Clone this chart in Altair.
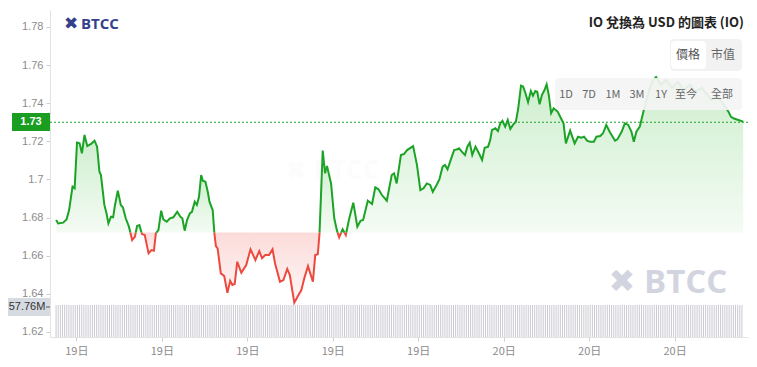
import altair as alt
import pandas as pd

# ---- data (hours since 19日 03:00, price in USD) ----
times = [0.05,0.15,0.38,0.54,0.66,0.82,0.92,1.03,1.15,1.26,
         1.38,1.51,1.69,1.85,1.97,2.08,2.15,2.31,2.41,2.50,
         2.62,2.72,2.81,2.94,3.08,3.18,3.31,3.46,3.61,3.74,
         3.84,3.95,4.07,4.20,4.38,4.51,4.63,4.72,4.84,4.97,
         5.07,5.23,5.38,5.54,5.72,5.87,5.96,6.07,6.18,6.31,
         6.41,6.54,6.64,6.74,6.84,6.92,7.04,7.15,7.23,7.38,
         7.46,7.53,7.61,7.76,7.92,8.07,8.20,8.30,8.41,8.53,
         8.72,8.95,9.15,9.38,9.56,9.69,9.84,10.02,10.18,10.30,
         10.53,10.69,10.87,10.99,11.20,11.35,11.53,11.68,11.84,11.96,
         12.07,12.18,12.30,12.38,12.53,12.64,12.73,12.92,13.07,13.19,
         13.30,13.46,13.61,13.76,13.96,14.15,14.30,14.42,14.64,14.84,
         14.99,15.14,15.30,15.53,15.76,15.87,15.99,16.19,16.33,16.48,
         16.76,16.94,17.10,17.25,17.40,17.56,17.68,17.86,17.99,18.14,
         18.25,18.37,18.53,18.68,18.83,18.91,19.07,19.19,19.30,19.41,
         19.53,19.68,19.84,19.99,20.11,20.27,20.37,20.45,20.61,20.73,
         20.84,20.94,21.07,21.19,21.31,21.45,21.57,21.68,21.81,21.91,
         22.02,22.14,22.27,22.37,22.48,22.57,22.68,22.79,22.91,23.01,
         23.11,23.22,23.34,23.53,23.68,23.80,23.91,24.11,24.32,24.48,
         24.63,24.76,24.91,25.06,25.22,25.34,25.52,25.65,25.80,25.96,
         26.21,26.32,26.52,26.67,26.83,26.98,27.09,27.21,27.37,27.52,
         27.64,27.81,28.00,28.13,28.37,28.60,28.88,29.15,29.43,29.71,
         29.98,30.26,30.54,30.72,31.00,31.27,31.52,31.64,31.75,31.98,32.21]

prices = [1.6787,1.6769,1.6773,1.6790,1.6839,1.6962,1.6953,1.7193,1.7189,1.7137,
          1.7233,1.7175,1.7186,1.7203,1.7172,1.7040,1.7023,1.6866,1.6822,1.6769,
          1.6804,1.6801,1.6866,1.6941,1.6866,1.6853,1.6796,1.6752,1.6682,1.6699,
          1.6755,1.6760,1.6713,1.6708,1.6612,1.6629,1.6626,1.6717,1.6734,1.6836,
          1.6790,1.6778,1.6796,1.6801,1.6830,1.6804,1.6796,1.6731,1.6787,1.6822,
          1.6830,1.6883,1.6866,1.6909,1.7023,1.6993,1.6988,1.6935,1.6883,1.6839,
          1.6717,1.6650,1.6638,1.6507,1.6493,1.6405,1.6468,1.6446,1.6451,1.6568,
          1.6510,1.6551,1.6633,1.6577,1.6624,1.6586,1.6603,1.6603,1.6633,1.6559,
          1.6463,1.6472,1.6530,1.6498,1.6353,1.6384,1.6419,1.6486,1.6545,1.6503,
          1.6463,1.6603,1.6607,1.6717,1.7151,1.7032,1.7070,1.6979,1.6796,1.6734,
          1.6696,1.6738,1.6708,1.6790,1.6878,1.6752,1.6783,1.6787,1.6888,1.6871,
          1.6958,1.6948,1.6918,1.6888,1.7023,1.7032,1.6979,1.7128,1.7133,1.7154,
          1.7175,1.7076,1.6944,1.6953,1.6979,1.6971,1.6935,1.6971,1.7000,1.7067,
          1.7076,1.7053,1.7105,1.7154,1.7158,1.7163,1.7142,1.7128,1.7172,1.7193,
          1.7128,1.7172,1.7137,1.7102,1.7166,1.7172,1.7207,1.7259,1.7268,1.7254,
          1.7294,1.7307,1.7277,1.7312,1.7265,1.7289,1.7303,1.7373,1.7492,1.7487,
          1.7452,1.7405,1.7464,1.7439,1.7464,1.7460,1.7394,1.7443,1.7469,1.7499,
          1.7443,1.7347,1.7373,1.7355,1.7321,1.7294,1.7189,1.7256,1.7189,1.7224,
          1.7219,1.7224,1.7202,1.7198,1.7198,1.7224,1.7228,1.7242,1.7286,1.7250,
          1.7203,1.7210,1.7250,1.7294,1.7286,1.7250,1.7198,1.7250,1.7277,1.7347,
          1.7399,1.7469,1.7522,1.7537,1.7496,1.7522,1.7480,1.7512,1.7470,1.7496,
          1.7459,1.7480,1.7443,1.7417,1.7438,1.7396,1.7355,1.7328,1.7321,1.7312,1.7303]

baseline = 1.6721          # price at start of range (green above / red below)
current_price = 1.73
current_label = "1.73"
volume_label = "57.76M"
volume_level = 57.76       # every volume bar reaches about the same height
n_volume_bars = 322
volume_times = [round(0.05 + 0.1 * i, 2) for i in range(n_volume_bars)]
volumes = [volume_level] * n_volume_bars

x_tick_hours = [1, 5, 9, 13, 17, 21, 25, 29]
y_ticks = [1.62, 1.64, 1.66, 1.68, 1.70, 1.72, 1.74, 1.76, 1.78]
title_text = "IO 兌換為 USD 的圖表 (IO)"
range_buttons = ["1D", "7D", "1M", "3M", "1Y", "至今", "全部"]
range_button_x = [516, 539, 563, 587, 611, 636, 672]

# ---- split the series into above / below baseline segments ----
rows = []
seg = 0
for i, (t, p) in enumerate(zip(times, prices)):
    side = "up" if p >= baseline else "down"
    if i > 0:
        t0, p0 = times[i - 1], prices[i - 1]
        prev_side = "up" if p0 >= baseline else "down"
        if prev_side != side:
            tc = t0 + (baseline - p0) / (p - p0) * (t - t0)
            rows.append({"t": tc, "price": baseline, "seg": seg, "side": prev_side, "base": baseline})
            seg += 1
            rows.append({"t": tc, "price": baseline, "seg": seg, "side": side, "base": baseline})
    rows.append({"t": t, "price": p, "seg": seg, "side": side, "base": baseline})
df = pd.DataFrame(rows)
vol_df = pd.DataFrame({"t": volume_times, "vol": volumes})
one = pd.DataFrame({"a": [0]})

GREEN = "#1ba326"
RED = "#ec4a3f"
FONT = "Noto Sans CJK TC"

x_scale = alt.Scale(domain=[0, 32.2], nice=False, zero=False)
y_scale = alt.Scale(domain=[1.6173, 1.7889], nice=False, zero=False)

x_enc = alt.X("t:Q", scale=x_scale, axis=alt.Axis(
    values=x_tick_hours, labelExpr="datum.value < 21 ? '19日' : '20日'",
    title=None, grid=False, domainColor="#e3e3e3", tickColor="#cfcfcf",
    tickSize=4, labelPadding=4, labelColor="#8c8c8c", labelFontSize=11, labelFont=FONT))
y_enc = alt.Y("price:Q", scale=y_scale, axis=alt.Axis(
    values=y_ticks, format=".2~f", title=None, grid=False, domainColor="#e3e3e3",
    tickColor="#cfcfcf", tickSize=4, labelPadding=3, labelColor="#8c8c8c",
    labelFontSize=11, labelFont="Liberation Sans"))

green_grad = alt.Gradient(gradient="linear", x1=0, x2=0, y1=0, y2=1, stops=[
    alt.GradientStop(color="#c8ecc8", offset=0),
    alt.GradientStop(color="#f3fbf3", offset=1)])
red_grad = alt.Gradient(gradient="linear", x1=0, x2=0, y1=0, y2=1, stops=[
    alt.GradientStop(color="#fbd8d5", offset=0),
    alt.GradientStop(color="#fff6f6", offset=1)])

area_up = alt.Chart(df).transform_filter("datum.side == 'up'").mark_area(
    color=green_grad, opacity=0.9).encode(x=x_enc, y=y_enc, y2="base:Q", detail="seg:N")
area_down = alt.Chart(df).transform_filter("datum.side == 'down'").mark_area(
    color=red_grad, opacity=0.9).encode(x=x_enc, y=y_enc, y2="base:Q", detail="seg:N")
line = alt.Chart(df).mark_line(strokeWidth=2).encode(
    x=x_enc, y=y_enc, detail="seg:N",
    color=alt.Color("side:N", scale=alt.Scale(domain=["up", "down"], range=[GREEN, RED]), legend=None))
cur_rule = alt.Chart(one).mark_rule(color=GREEN, strokeDash=[2, 2], strokeWidth=1).encode(
    y=alt.datum(current_price, scale=y_scale))

price_layer = alt.layer(area_up, area_down, line, cur_rule)

vol = alt.Chart(vol_df).mark_bar(size=1, color="#cacad2").encode(
    x=x_enc,
    y=alt.Y("vol:Q", scale=alt.Scale(domain=[0, 590], nice=False), axis=None))

def txt(s, x, y, size=12, color="#555", weight="normal", align="center", font=FONT, opacity=1.0):
    return alt.Chart(one).mark_text(text=s, fontSize=size, color=color, fontWeight=weight,
                                    align=align, baseline="middle", font=font, opacity=opacity).encode(
        x=alt.value(x), y=alt.value(y))

def box(x, x2, y, y2, color, radius=0, opacity=1.0):
    return alt.Chart(one).mark_rect(color=color, cornerRadius=radius, opacity=opacity).encode(
        x=alt.value(x), x2=alt.value(x2), y=alt.value(y), y2=alt.value(y2))

annotations = [
    # logo
    txt("✖", 21, 14, size=17, color="#35408c", weight="bold", font="DejaVu Sans"),
    txt("BTCC", 31, 14, size=15, color="#35408c", weight="bold", align="left", font="Open Sans"),
    # faint watermarks
    txt("✖", 572, 272, size=32, color="#d2d5e0", weight="bold", font="DejaVu Sans"),
    txt("BTCC", 594, 273, size=33, color="#d2d5e0", weight="bold", align="left", font="Open Sans"),
    txt("✖ BTCC", 282, 161, size=26, color="#d0d3df", weight="bold", font="Open Sans", opacity=0.05),
    # title
    txt(title_text, 694, 13, size=13, color="#222", weight="bold", align="right"),
    # price / market cap toggle
    box(620, 692, 29, 61, "#f2f2f2", radius=4),
    box(621, 656, 31, 59, "#ffffff", radius=4),
    txt("價格", 638, 45, size=12, color="#555"),
    txt("市值", 673, 45, size=12, color="#666"),
    # range buttons
    box(505, 692, 68, 100, "#f4f4f4", radius=4, opacity=0.92),
    # current price label
    box(-38, 0, 103, 121, "#1a9e22"),
    txt(current_label, -19, 112, size=11, color="#ffffff", weight="bold", font="Liberation Sans"),
    # volume label
    box(-42, 0, 288, 306, "#d6dae1"),
    txt(volume_label, -23, 297, size=11, color="#333", font="Liberation Sans"),
    alt.Chart(one).mark_rule(color="#555").encode(x=alt.value(-4), x2=alt.value(0), y=alt.value(297)),
]
for b, bx in zip(range_buttons, range_button_x):
    annotations.append(txt(b, bx, 85, size=11, color="#666"))

chart = alt.layer(vol, price_layer).resolve_scale(y="independent")
chart = alt.layer(chart, *annotations).properties(
    width=698, height=327,
    autosize=alt.AutoSizeParams(type="none"),
    padding={"left": 42, "top": 2, "right": 1, "bottom": 20},
).configure_view(strokeWidth=0)

chart.save("out.html", embed_options={"renderer": "svg", "actions": False})
